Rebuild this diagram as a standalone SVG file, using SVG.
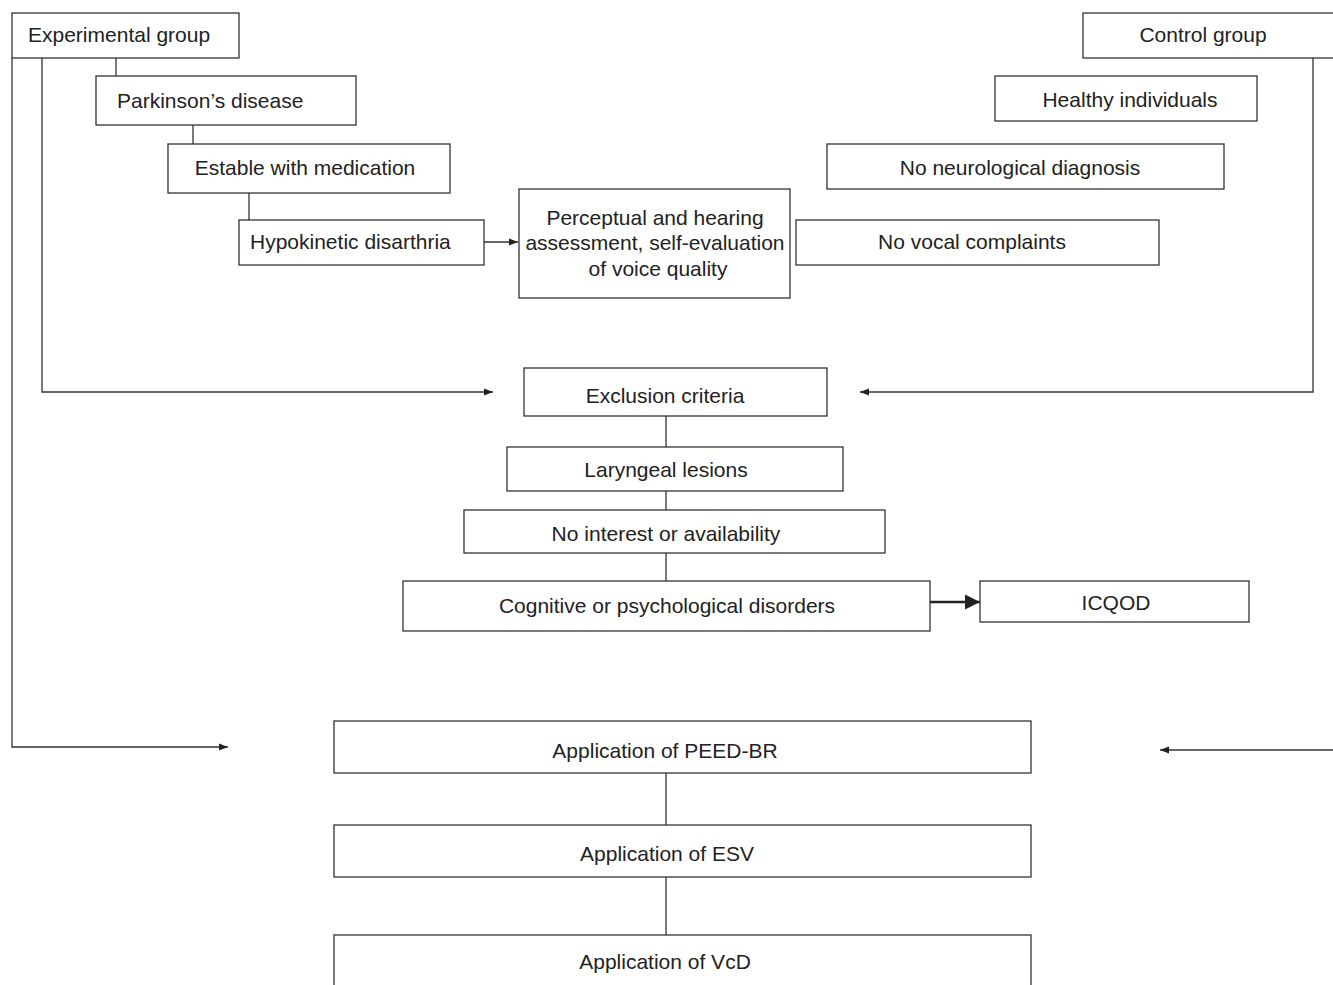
<svg xmlns="http://www.w3.org/2000/svg" width="1333" height="985" viewBox="0 0 1333 985">
<style>
  .box{fill:#fff;stroke:#333;stroke-width:1.3}
  .t{font-family:"Liberation Sans",Arial,sans-serif;font-size:21px;fill:#222}
  .c{text-anchor:middle}
  .ln{fill:none;stroke:#333;stroke-width:1.3}
  .th{fill:none;stroke:#222;stroke-width:2.5}
</style>
<defs>
  <marker id="ah" viewBox="0 0 10 10" refX="10" refY="5" markerWidth="9" markerHeight="9" markerUnits="userSpaceOnUse" orient="auto">
    <path d="M0,1 L10,5 L0,9 z" fill="#222"/>
  </marker>
  <marker id="ahb" viewBox="0 0 10 10" refX="10" refY="5" markerWidth="6" markerHeight="7" orient="auto">
    <path d="M0,0 L10,5 L0,10 z" fill="#222"/>
  </marker>
</defs>
<rect width="1333" height="985" fill="#fff"/>
<g id="connectors">
  <path class="ln" d="M12,58 V747 H228" marker-end="url(#ah)"/>
  <path class="ln" d="M42,58 V392 H493" marker-end="url(#ah)"/>
  <path class="ln" d="M116,58 V76"/>
  <path class="ln" d="M193,125 V144"/>
  <path class="ln" d="M249,193 V220"/>
  <path class="ln" d="M484,242 H518" marker-end="url(#ah)"/>
  <path class="ln" d="M1313,58 V392 H860" marker-end="url(#ah)"/>
  <path class="ln" d="M666,416 V447"/>
  <path class="ln" d="M666,491 V510"/>
  <path class="ln" d="M666,553 V581"/>
  <path class="th" d="M930,602 H980" marker-end="url(#ahb)"/>
  <path class="ln" d="M1333,750 H1160" marker-end="url(#ah)"/>
  <path class="ln" d="M666,773 V825"/>
  <path class="ln" d="M666,877 V935"/>
</g>
<g id="experimental"><rect class="box" x="12" y="13" width="227" height="45"/><text class="t" x="28" y="42">Experimental group</text></g>
<g id="parkinson"><rect class="box" x="96" y="76" width="260" height="49"/><text class="t" x="117" y="108">Parkinson’s disease</text></g>
<g id="estable"><rect class="box" x="168" y="144" width="282" height="49"/><text class="t c" x="305" y="175">Estable with medication</text></g>
<g id="hypokinetic"><rect class="box" x="239" y="220" width="245" height="45"/><text class="t" x="250" y="249">Hypokinetic disarthria</text></g>
<g id="perceptual"><rect class="box" x="519" y="189" width="271" height="109"/>
  <text class="t c" x="655" y="225">Perceptual and hearing</text>
  <text class="t c" x="655" y="250">assessment, self-evaluation</text>
  <text class="t c" x="658" y="276">of voice quality</text></g>
<g id="novocal"><rect class="box" x="796" y="220" width="363" height="45"/><text class="t c" x="972" y="249">No vocal complaints</text></g>
<g id="control"><rect class="box" x="1083" y="13" width="260" height="45"/><text class="t c" x="1203" y="42">Control group</text></g>
<g id="healthy"><rect class="box" x="995" y="76" width="262" height="45"/><text class="t c" x="1130" y="107">Healthy individuals</text></g>
<g id="noneuro"><rect class="box" x="827" y="144" width="397" height="45"/><text class="t c" x="1020" y="175">No neurological diagnosis</text></g>
<g id="exclusion"><rect class="box" x="524" y="368" width="303" height="48"/><text class="t c" x="665" y="403">Exclusion criteria</text></g>
<g id="laryngeal"><rect class="box" x="507" y="447" width="336" height="44"/><text class="t c" x="666" y="477">Laryngeal lesions</text></g>
<g id="nointerest"><rect class="box" x="464" y="510" width="421" height="43"/><text class="t c" x="666" y="541">No interest or availability</text></g>
<g id="cognitive"><rect class="box" x="403" y="581" width="527" height="50"/><text class="t c" x="667" y="613">Cognitive or psychological disorders</text></g>
<g id="icqod"><rect class="box" x="980" y="581" width="269" height="41"/><text class="t c" x="1116" y="610">ICQOD</text></g>
<g id="peed"><rect class="box" x="334" y="721" width="697" height="52"/><text class="t c" x="665" y="758">Application of PEED-BR</text></g>
<g id="esv"><rect class="box" x="334" y="825" width="697" height="52"/><text class="t c" x="667" y="861">Application of ESV</text></g>
<g id="vcd"><rect class="box" x="334" y="935" width="697" height="60"/><text class="t c" x="665" y="969">Application of VcD</text></g>
</svg>
